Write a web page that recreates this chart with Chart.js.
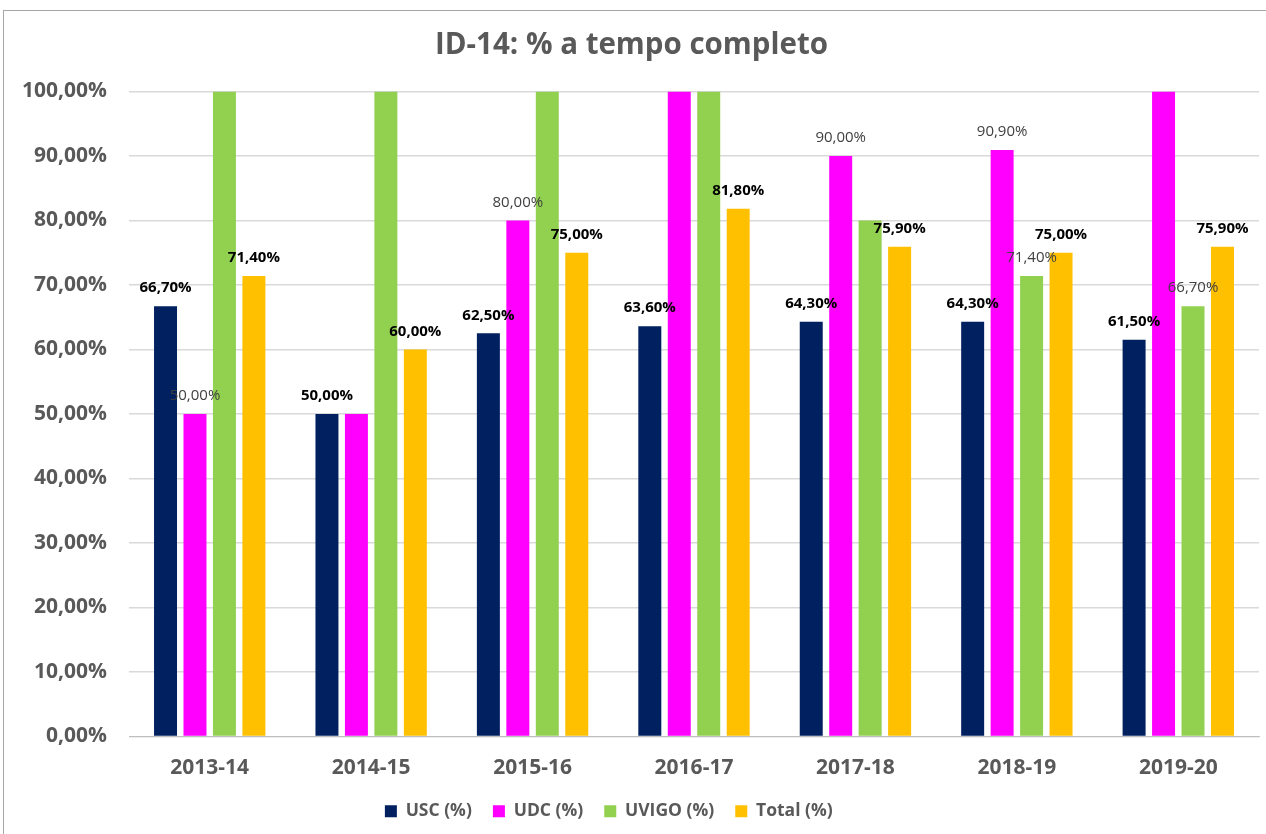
<!DOCTYPE html>
<html>
<head>
<meta charset="utf-8">
<script src="https://cdn.jsdelivr.net/npm/chart.js@4"></script>
<style>
  html, body { margin: 0; padding: 0; background: #fff; }
  .box { position: absolute; left: 3px; top: 10px; width: 1262px; height: 823px;
         border-left: 1px solid #a6a6a6; border-top: 1px solid #a6a6a6; }
  canvas { display: block; }
</style>
</head>
<body>
<div class="box"><canvas id="myChart1" width="1262" height="823"></canvas></div>
<script>
// 데이터
const years = ['2013-14', '2014-15', '2015-16', '2016-17', '2017-18', '2018-19', '2019-20'];
const usc   = [66.7, 50.0, 62.5, 63.6, 64.3, 64.3, 61.5];
const udc   = [50.0, 50.0, 80.0, 100, 90.0, 90.9, 100];
const uvigo = [100, 100, 100, 100, 80.0, 71.4, 66.7];
const total = [71.4, 60.0, 75.0, 81.8, 75.9, 75.0, 75.9];

// which data labels are visible in the original
const uscShow   = [1, 1, 1, 1, 1, 1, 1];
const udcShow   = [1, 0, 1, 0, 1, 1, 0];
const uvigoShow = [0, 0, 0, 0, 0, 1, 1];
const totalShow = [1, 1, 1, 1, 1, 1, 1];

const fmt = v => v.toFixed(2).replace('.', ',') + '%';
const FONT = "'Open Sans', 'Noto Sans', sans-serif";

// 막대 위 라벨 그리기
const barLabels = {
  id: 'barLabels',
  afterDatasetsDraw(chart) {
    const ctx = chart.ctx;
    ctx.save();
    ctx.textAlign = 'center';
    ctx.textBaseline = 'middle';
    chart.data.datasets.forEach((ds, i) => {
      const meta = chart.getDatasetMeta(i);
      meta.data.forEach((bar, j) => {
        if (!ds.show[j]) return;
        ctx.font = (ds.boldLabel ? 'bold ' : '') + '15px ' + FONT;
        ctx.fillStyle = ds.boldLabel ? '#000000' : '#404040';
        ctx.fillText(fmt(ds.data[j]), bar.x, bar.y - 18);
      });
    });
    ctx.restore();
  }
};

const data1 = {
  labels: years,
  datasets: [
    { label: 'USC (%)  ',   data: usc,   backgroundColor: '#002060', show: uscShow,   boldLabel: true },
    { label: 'UDC (%)  ',   data: udc,   backgroundColor: '#FF00FF', show: udcShow,   boldLabel: false },
    { label: 'UVIGO (%)  ', data: uvigo, backgroundColor: '#92D050', show: uvigoShow, boldLabel: false },
    { label: 'Total (%)          ', data: total, backgroundColor: '#FFC000', show: totalShow, boldLabel: true }
  ]
};

const config1 = {
  type: 'bar',
  data: data1,
  plugins: [barLabels],
  options: {
    responsive: false,
    animation: false,
    categoryPercentage: 0.73,
    barPercentage: 0.78,
    layout: { padding: { left: 0, right: 7, top: 0, bottom: 4 } },
    plugins: {
      title: {
        display: true,
        text: 'ID-14: % a tempo completo',
        color: '#595959',
        font: { family: FONT, size: 29.5, weight: 'bold' },
        padding: { top: 17, bottom: 28 }
      },
      legend: {
        position: 'bottom',
        labels: {
          color: '#595959',
          font: { family: FONT, size: 17.5, weight: 'bold' },
          boxWidth: 12, boxHeight: 12, padding: 12
        }
      },
      tooltip: { enabled: false }
    },
    scales: {
      x: {
        afterFit(scale) { scale.height = 54; },
        grid: { display: false, drawTicks: false },
        border: { color: '#bfbfbf' },
        ticks: { color: '#595959', font: { family: FONT, size: 21, weight: 'bold' }, padding: 19 }
      },
      y: {
        min: 0, max: 100,
        afterFit(scale) { scale.width = 125; },
        grid: { color: '#d9d9d9', lineWidth: 1.5, drawTicks: false },
        border: { display: false },
        ticks: {
          stepSize: 10, padding: 22,
          color: '#595959',
          font: { family: FONT, size: 21, weight: 'bold' },
          callback: v => fmt(v)
        }
      }
    }
  }
};

const myChart1 = new Chart(document.getElementById('myChart1'), config1);
</script>
</body>
</html>
